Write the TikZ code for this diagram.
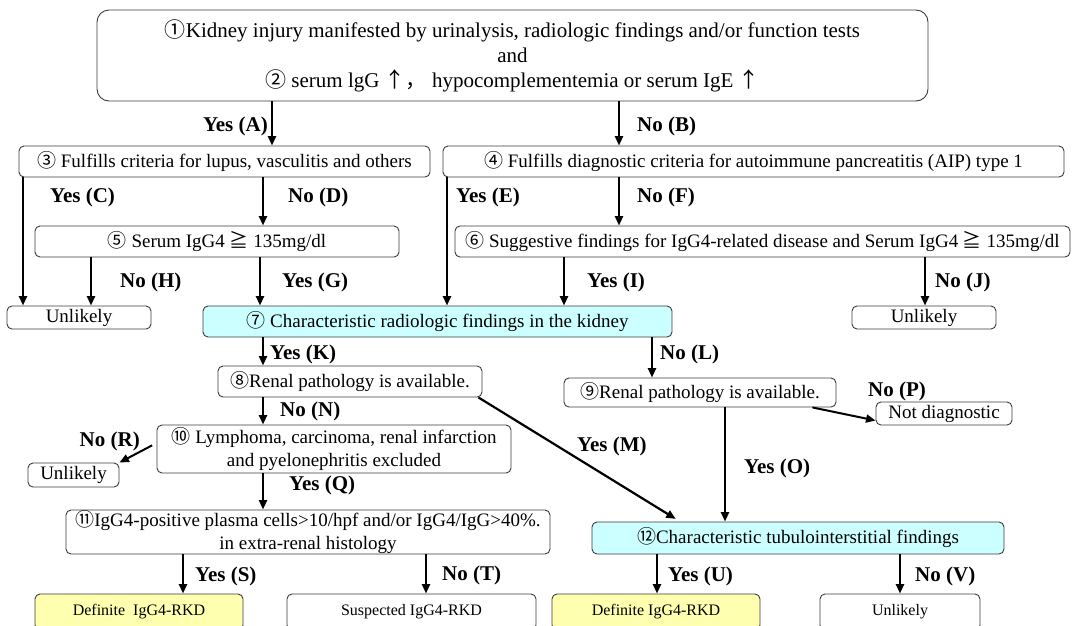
\documentclass[tikz,border=0pt]{standalone}
\usepackage{fontspec}
\setmainfont{Liberation Serif}
\newfontfamily\cjk{Noto Sans CJK JP}
\usetikzlibrary{arrows.meta}
\definecolor{kidneycyan}{RGB}{204,255,255}
\definecolor{rkdyellow}{RGB}{255,255,176}
\definecolor{boxline}{RGB}{60,60,60}
\newcommand{\cn}[1]{{\cjk #1}}

\begin{document}
\begin{tikzpicture}[x=1pt, y=-1pt,
box/.style={rounded corners=5pt, draw=boxline, line width=0.9pt, fill=white, align=center, inner sep=0pt, font=\fontsize{19}{22.5}\selectfont},
topbox/.style={box, rounded corners=12pt, font=\fontsize{21}{25}\selectfont},
endbox/.style={box, font=\fontsize{16}{19}\selectfont},
kidney/.style={box, fill=kidneycyan},
definite/.style={endbox, fill=rkdyellow},
answer/.style={inner sep=0pt, font=\fontsize{21}{24}\selectfont\bfseries},
arrow/.style={-{Triangle[length=9.5pt,width=8pt]}, line width=2.2pt}
]
\clip (0,0) rectangle (1072,625);
% boxes
\node[topbox, minimum width=831pt, minimum height=91pt] (n1) at (512.5,55.5)
  {\cn{①}Kidney injury manifested by urinalysis, radiologic findings and/or function tests\\and\\\cn{②} serum lgG \cn{↑}\cn{，} hypocomplementemia or serum IgE \cn{↑}};
\node[box, minimum width=411pt, minimum height=31pt] (b3) at (224.5,161.5) {\cn{③} Fulfills criteria for lupus, vasculitis and others};
\node[box, minimum width=621pt, minimum height=31pt] (b4) at (753.5,161.5) {\cn{④} Fulfills diagnostic criteria for autoimmune pancreatitis (AIP) type 1};
\node[box, minimum width=364pt, minimum height=31pt] (b5) at (217,241.5) {\cn{⑤} Serum IgG4 \cn{≧} 135mg/dl};
\node[box, minimum width=615pt, minimum height=31pt] (b6) at (762.5,241.5) {\cn{⑥} Suggestive findings for IgG4-related disease and Serum IgG4 \cn{≧} 135mg/dl};
\node[box, minimum width=144pt, minimum height=23pt] (unA) at (79,317.5) {Unlikely};
\node[kidney, minimum width=469pt, minimum height=31pt] (b7) at (437.5,321.5) {\cn{⑦} Characteristic radiologic findings in the kidney};
\node[box, minimum width=144pt, minimum height=23pt] (unB) at (924,317.5) {Unlikely};
\node[box, minimum width=264pt, minimum height=31pt] (b8) at (350,381.5) {\cn{⑧}Renal pathology is available.};
\node[box, minimum width=272pt, minimum height=29pt] (b9) at (700,392.5) {\cn{⑨}Renal pathology is available.};
\node[box, minimum width=136pt, minimum height=23pt] (nd) at (944,413.5) {Not diagnostic};
\node[box, minimum width=354pt, minimum height=48pt] (b10) at (334,449) {\cn{⑩} Lymphoma, carcinoma, renal infarction\\and pyelonephritis excluded};
\node[box, minimum width=91pt, minimum height=24pt] (unC) at (73.5,475) {Unlikely};
\node[box, minimum width=484pt, minimum height=44pt] (b11) at (308,532) {\cn{⑪}IgG4-positive plasma cells>10/hpf and/or IgG4/IgG>40\%.\\in extra-renal histology};
\node[kidney, minimum width=412pt, minimum height=32pt] (b12) at (798,538) {\cn{⑫}Characteristic tubulointerstitial findings};
\node[definite, minimum width=208pt, minimum height=36pt] (defA) at (139,612) {Definite\ \ IgG4-RKD};
\node[endbox, minimum width=249pt, minimum height=36pt] (susp) at (411.5,612) {Suspected IgG4-RKD};
\node[definite, minimum width=208pt, minimum height=36pt] (defB) at (656,612) {Definite IgG4-RKD};
\node[endbox, minimum width=160pt, minimum height=36pt] (unD) at (900,612) {Unlikely};
% columns of the vertical arrows
\foreach \n/\x in {cA/272, cB/619, cC/23, cD/263, cE/447, cF/619, cG/260, cH/91, cI/564, cJ/925,
  cK/263, cL/652, cN/263, cQ/263, cO/725, cS/183, cT/426, cU/657, cV/900, cM/680}
  \coordinate (\n) at (\x,0);
\foreach \a/\b/\c in {n1/b3/cA, n1/b4/cB, b3/unA/cC, b3/b5/cD, b4/b7/cE, b4/b6/cF, b5/unA/cH, b5/b7/cG,
  b6/b7/cI, b6/unB/cJ, b7/b8/cK, b7/b9/cL, b8/b10/cN, b10/b11/cQ, b9/b12/cO, b11/defA/cS,
  b11/susp/cT, b12/defB/cU, b12/unD/cV}
  \draw[arrow] (\a.south -| \c) -- (\b.north -| \c);
\draw[arrow, shorten >=5pt] ([xshift=-4pt]b8.south east) -- (b12.north -| cM);
\draw[arrow, line width=2pt] ([xshift=-24pt]b9.south east) -- ([yshift=-7pt]nd.west);
\draw[arrow, line width=2pt, shorten <=5pt] ([yshift=6pt]b10.west) -- (unC.north east);
% answers
\node[answer, anchor=east] (lA) at (268,126) {Yes (A)};
\node[answer, anchor=west] (lB) at (637,126) {No (B)};
\node[answer, anchor=west] (lC) at (50,197) {Yes (C)};
\node[answer, anchor=west] (lD) at (288,197) {No (D)};
\node[answer, anchor=west] (lE) at (456,197) {Yes (E)};
\node[answer, anchor=west] (lF) at (637,197) {No (F)};
\node[answer, anchor=west] (lH) at (120,282) {No (H)};
\node[answer, anchor=west] (lG) at (282,282) {Yes (G)};
\node[answer, anchor=west] (lI) at (587,282) {Yes (I)};
\node[answer, anchor=west] (lJ) at (935,282) {No (J)};
\node[answer, anchor=west] (lK) at (270,354) {Yes (K)};
\node[answer, anchor=west] (lL) at (660,354) {No (L)};
\node[answer, anchor=west] (lN) at (280,411) {No (N)};
\node[answer, anchor=west] (lP) at (868,391) {No (P)};
\node[answer, anchor=east] (lR) at (140,441) {No (R)};
\node[answer, anchor=west] (lM) at (577,446) {Yes (M)};
\node[answer, anchor=west] (lO) at (744,468) {Yes (O)};
\node[answer, anchor=west] (lQ) at (289,485) {Yes (Q)};
\node[answer, anchor=west] (lS) at (195,576) {Yes (S)};
\node[answer, anchor=west] (lT) at (442,575) {No (T)};
\node[answer, anchor=west] (lU) at (668,576) {Yes (U)};
\node[answer, anchor=west] (lV) at (915,576) {No (V)};
\end{tikzpicture}
\end{document}
